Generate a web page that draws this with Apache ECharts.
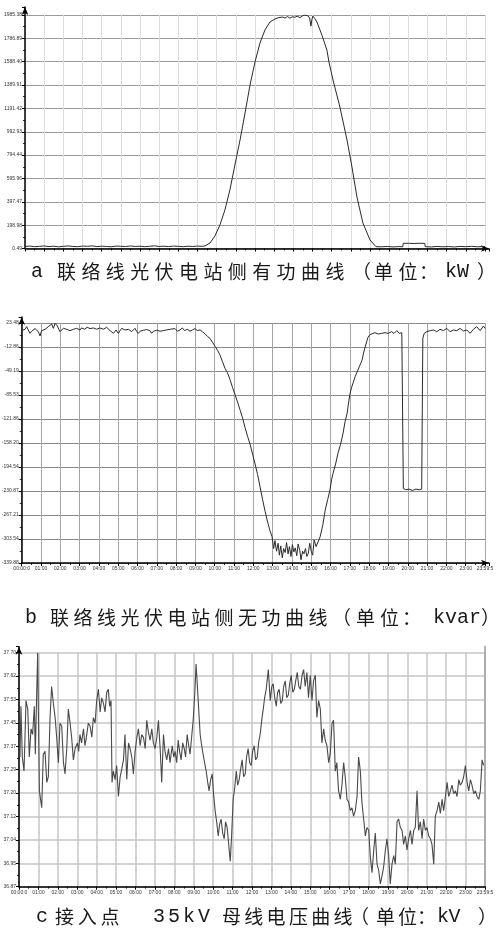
<!DOCTYPE html>
<html><head><meta charset="utf-8">
<script src="https://cdn.jsdelivr.net/npm/echarts@6/dist/echarts.min.js"></script>
<style>html,body{margin:0;padding:0;background:#fff}#c{width:498px;height:937px}</style>
</head><body><div id="c"></div>
<script>
// ---------------- DATA ----------------
const timeLabels = ['00:00:0','01:00','02:00','03:00','04:00','05:00','06:00','07:00','08:00','09:00','10:00','11:00','12:00','13:00','14:00','15:00','16:00','17:00','18:00','19:00','20:00','21:00','22:00','23:00','23:59:5'];

const aTickLabels = ['0.49','198.98','397.47','595.96','794.44','992.93','1191.42','1389.91','1588.40','1786.89','1985.38'];
const bTickLabels = ['-339.88','-303.54','-267.21','-230.87','-194.54','-158.20','-121.86','-85.53','-49.19','-12.86','23.48'];
const cTickLabels = ['36.87','36.95','37.04','37.12','37.20','37.29','37.37','37.45','37.53','37.62','37.70'];

// a: active power (kW)
const aHours = [0,0.25,0.5,0.75,1,1.25,1.5,1.75,2,2.25,2.5,2.75,3,3.25,3.5,3.75,4,4.25,4.5,4.75,5,5.25,5.5,5.75,6,6.25,6.5,6.75,7,7.25,7.5,7.75,8,8.25,8.5,8.75,9,9.2,9.39,
 9.65,9.91,10.17,10.43,10.69,10.95,11.22,11.48,11.74,12.0,12.26,12.52,12.78,13.04,13.2,13.3,13.45,13.56,13.7,13.82,13.95,14.08,14.2,14.35,14.5,14.61,14.7,14.76,14.85,14.92,14.97,15.02,15.12,15.23,15.49,15.75,15.86,16.07,16.43,16.8,17.06,17.32,17.63,18.0,18.31,
 18.6,18.9,19.2,19.5,19.71,19.73,20.0,20.3,20.6,20.86,20.88,21.2,21.5,21.8,22.1,22.4,22.7,23.0,23.3,23.6,24];
const aPower = [18,21,16,19,22,17,20,15,19,22,18,16,21,19,23,17,20,18,15,21,19,17,22,18,20,16,19,23,18,20,17,21,19,16,20,18,21,19,22,
 47,107,200,328,498,710,923,1152,1390,1586,1747,1858,1926,1951,1962,1955,1968,1960,1972,1958,1970,1966,1975,1963,1980,1985,1972,1978,1960,1891,1950,1976,1955,1926,1815,1688,1586,1433,1203,923,693,438,217,73,16,
 15,18,14,17,15,44,45,43,45,44,16,14,18,15,17,14,18,16,19,15,17];

// b: reactive power (kvar)
const bHours = [0,0.085,0.17,0.258,0.34,0.43,0.52,0.6,0.69,0.776,0.86,0.95,1.03,1.12,1.21,1.3,1.38,1.47,1.55,1.64,1.73,1.85,1.92,1.98,2.07,2.16,2.25,2.33,2.42,2.5,2.59,2.68,2.77,2.85,2.94,3.02,3.1,3.19,3.26,3.33,3.39,3.45,3.54,3.63,3.72,3.8,3.88,3.97,4.05,4.14,4.23,4.32,4.4,4.49,4.58,4.66,4.75,4.82,4.89,4.95,5.01,5.1,5.18,5.27,5.35,5.44,5.53,5.62,5.7,5.78,5.87,5.95,6.04,6.13,6.22,6.3,6.39,6.47,6.56,6.64,6.73,6.82,6.91,7.0,7.08,7.17,7.25,7.34,7.43,7.51,7.6,7.7,7.8,7.94,8.07,8.2,8.32,8.44,8.58,8.72,8.85,8.98,9.1,9.24,
 9.37,9.5,9.63,9.76,9.89,10.02,10.15,10.27,10.4,10.53,10.66,10.79,10.92,11.05,11.18,11.31,11.44,11.57,11.7,11.83,11.96,12.09,12.22,12.35,12.48,12.61,12.69,12.76,12.86,12.97,
 13.05,13.12,13.2,13.28,13.35,13.42,13.5,13.57,13.65,13.72,13.8,13.87,13.95,14.02,14.1,14.17,14.25,14.32,14.4,14.47,14.55,14.62,14.7,14.77,14.85,14.92,15.0,15.07,15.15,15.25,15.35,15.46,
 15.6,15.72,15.85,15.97,16.05,16.13,16.26,16.39,16.52,16.65,16.75,16.86,16.94,17.01,17.09,17.17,17.27,17.37,17.5,17.63,17.71,17.79,17.87,17.94,18.05,18.13,
 18.3,18.47,18.65,18.82,18.99,19.16,19.29,19.43,19.56,19.69,19.75,
 19.77,19.9,20.07,20.24,20.42,20.59,20.72,
 20.78,20.85,20.91,20.98,21.16,21.33,21.5,21.67,21.85,22.02,22.19,22.36,22.54,22.71,22.88,23.06,23.23,23.4,23.57,23.75,23.92,24];
const bPower = [12,10.4,14,17.9,13,7.8,11,11.9,15,15.4,10.4,3.8,11.9,14,13.9,16,17.9,19,22,15.4,23,18.9,14,10.4,13,15.4,14,13.9,12,11.9,14.5,13.9,12,15.4,14,12.9,16,17.9,14,15.4,17,18.9,15,13.9,16,17.9,14,12.9,16,18.9,14,12.9,16.9,14,11.9,9.5,7.8,10,12.9,10,7.8,12,15.4,14,12.9,13,13.9,12,10.4,13,15.4,11,7.8,11,13.9,12.5,11.9,13.5,15.4,12,7.8,11,13.9,12.5,11.9,11,10.4,12,13.9,13,11.9,14,12,15,11,13,16,12,14,11,13,15,12,13,
 10,7,3,0,-6,-12,-18,-25,-35,-45,-52,-62,-74,-85,-96,-108,-120,-135,-148,-160,-175,-190,-206,-225,-244,-262,-272,-280,-291,-300,
 -318,-306,-322,-310,-328,-314,-332,-318,-324,-309,-326,-315,-330,-312,-323,-317,-329,-311,-320,-335,-322,-326,-318,-330,-325,-310,-322,-328,-305,-315,-308,-300,
 -282,-260,-244,-229,-214,-204,-190,-173,-160,-143,-126,-113,-96,-83,-74,-67,-58,-51,-42,-33,-22,-13,-5,2,6,7.8,
 8.8,6.8,7.8,8.8,7.8,10.3,7.8,11.9,7.8,8.8,8.8,
 -227,-229,-228,-230,-228,-229,-228,
 0.3,7.8,8.8,10.3,11.9,12.9,10.3,13.9,11.9,15.4,10.3,12.9,11.9,15.4,11.4,12.9,7.8,13.9,17.9,11.9,18.9,15.4];

// c: 35kV bus voltage (kV)
const cHours = [0.05,0.10,0.17,0.26,0.36,0.45,0.53,0.62,0.70,0.79,0.84,0.96,1.05,1.17,1.25,1.34,1.43,1.51,1.60,1.68,1.77,1.86,1.94,2.03,2.11,2.20,2.29,2.37,2.46,2.54,2.63,2.71,2.80,2.89,3.01,3.07,3.14,3.22,3.32,3.40,3.49,3.57,3.66,3.75,3.83,3.92,4.00,4.09,4.18,4.26,4.35,4.43,4.52,4.60,4.67,4.74,4.79,4.86,4.95,5.03,5.12,5.21,5.30,5.38,5.46,5.55,5.64,5.72,5.81,5.89,5.98,6.07,6.15,6.24,6.32,6.41,6.50,6.58,6.66,6.75,6.84,6.92,7.01,7.10,7.18,7.27,7.35,7.44,7.52,7.61,7.70,7.78,
 7.89,7.97,8.04,8.12,8.20,8.27,8.35,8.43,8.51,8.58,8.66,8.74,8.81,8.89,8.97,9.05,9.12,9.23,9.33,9.41,9.48,9.56,9.64,9.72,9.79,9.87,9.95,10.02,10.10,10.18,10.26,10.33,10.41,10.49,10.57,10.64,10.72,10.80,10.88,10.95,11.03,11.11,11.19,11.26,11.34,11.42,11.49,11.57,11.65,11.72,11.80,11.88,11.96,12.03,12.11,12.19,12.27,12.34,12.42,12.50,12.58,12.65,12.73,12.84,12.94,13.02,13.09,13.17,13.25,13.32,13.40,13.48,13.56,13.63,13.71,13.79,13.87,13.94,14.02,14.10,14.18,14.25,14.33,14.41,
 14.49,14.58,14.66,14.74,14.83,14.91,15.00,15.09,15.17,15.26,15.34,15.43,15.52,15.60,15.69,15.77,15.86,15.95,16.03,16.12,16.20,16.29,16.37,16.46,16.55,16.63,16.72,16.80,16.89,16.98,17.06,17.15,17.23,17.32,17.41,17.49,17.58,17.66,17.75,17.84,17.92,18.01,18.09,18.18,18.27,18.35,18.44,18.52,18.61,18.70,18.78,18.87,18.95,19.04,19.12,19.21,19.30,19.38,19.47,19.55,19.64,19.73,19.81,19.90,19.98,20.07,20.16,20.24,20.33,20.41,20.50,20.58,20.67,20.76,20.84,20.93,21.01,21.10,21.19,21.27,21.36,21.44,21.53,21.62,21.70,21.79,21.87,21.96,22.05,22.13,22.22,22.30,22.39,22.48,22.56,22.65,22.73,22.82,22.90,22.99,23.08,23.16,23.25,23.33,23.42,23.51,23.59,23.68,23.76,23.85,23.93,23.99];
const cVoltage = [37.33,37.51,37.33,37.28,37.53,37.50,37.33,37.43,37.41,37.51,37.34,37.70,37.21,37.15,37.34,37.35,37.24,37.26,37.47,37.58,37.52,37.47,37.40,37.31,37.45,37.44,37.31,37.27,37.36,37.50,37.45,37.40,37.32,37.36,37.38,37.35,37.41,37.38,37.43,37.37,37.41,37.45,37.44,37.40,37.47,37.45,37.53,37.57,37.49,37.54,37.52,37.49,37.56,37.57,37.51,37.53,37.24,37.28,37.25,37.30,37.19,37.26,37.29,37.32,37.41,37.25,37.38,37.36,37.33,37.27,37.35,37.40,37.43,37.37,37.41,37.40,37.36,37.46,37.42,37.39,37.43,37.38,37.36,37.40,37.46,37.36,37.24,37.41,37.35,37.32,37.36,37.31,
 37.37,37.33,37.35,37.31,37.39,37.35,37.32,37.38,37.36,37.33,37.41,37.37,37.34,37.40,37.46,37.55,37.66,37.53,37.41,37.37,37.34,37.31,37.28,37.24,37.21,37.25,37.27,37.20,37.14,37.10,37.05,37.09,37.11,37.06,37.04,37.10,37.08,37.02,36.96,37.05,37.18,37.22,37.28,37.23,37.25,37.29,37.32,37.26,37.27,37.33,37.36,37.31,37.30,37.35,37.37,37.32,37.33,37.38,37.41,37.46,37.50,37.54,37.57,37.64,37.53,37.58,37.59,37.54,37.51,37.56,37.57,37.52,37.53,37.58,37.60,37.54,37.55,37.59,37.62,37.56,37.57,37.60,37.63,37.58,
 37.57,37.62,37.64,37.58,37.63,37.54,37.62,37.53,37.60,37.62,37.47,37.53,37.50,37.38,37.43,37.39,37.37,37.31,37.34,37.45,37.46,37.28,37.31,37.21,37.18,37.23,37.31,37.26,37.18,37.17,37.14,37.15,37.12,37.14,37.19,37.33,37.28,37.17,37.11,37.05,37.08,37.07,36.98,36.92,37.00,37.06,36.95,36.93,36.88,36.91,36.94,37.00,37.04,36.98,36.88,36.95,36.98,36.95,37.10,37.11,37.08,37.07,37.02,37.05,37.00,37.04,37.07,37.02,37.07,37.08,37.21,37.07,37.10,37.04,37.11,37.07,37.08,37.05,37.04,37.02,36.95,37.12,37.14,37.17,37.13,37.18,37.14,37.19,37.24,37.19,37.21,37.23,37.20,37.21,37.19,37.25,37.23,37.24,37.26,37.30,37.24,37.21,37.25,37.23,37.20,37.21,37.19,37.18,37.21,37.32,37.30];

const captionA = 'a 联络线光伏电站侧有功曲线（单位：kW）';
const captionB = 'b 联络线光伏电站侧无功曲线（单位：kvar）';
const captionC = 'c 接入点 35kV 母线电压曲线（单位：kV）';

// ---------------- LAYOUT / STYLE ----------------
const panels = [
  {labels: aTickLabels, hours: aHours, vals: aPower,
   left:25, top:15, width:460, height:233.5, extTop:8, extRight:4, xArrow:true, yArrow:true, xLabels:false,
   hColor:'#9a9a9a', vColor:'#dcdcdc', gw:1, lineColor:'#2a2a2a', lw:1},
  {labels: bTickLabels, hours: bHours, vals: bPower,
   left:21.7, top:323, width:463.3, height:240, extTop:6, extRight:4, xArrow:true, yArrow:true, xLabels:true,
   hColor:'#8a8a8a', vColor:'#a5a5a5', gw:1, lineColor:'#2a2a2a', lw:1},
  {labels: cTickLabels, hours: cHours, vals: cVoltage,
   left:19, top:652.7, width:466, height:234, extTop:6, extRight:0, xArrow:false, yArrow:true, xLabels:true,
   hColor:'#c6c6c6', vColor:'#c6c6c6', gw:1.5, lineColor:'#4a4a4a', lw:1.1, rightLine:true}
];

// caption runs: [text, x, pitch]; y is the vertical centre
const captionRuns = [
  {y:272, src:captionA, runs:[['a',31],['联络线光伏电站侧有功曲线',57,24.4],['（',352],['单位',374,24.4],['：',419],['kW',445,12],['）',477]]},
  {y:618, src:captionB, runs:[['b',25],['联络线光伏电站侧无功曲线',50,23.5],['（',332],['单位',356,24],['：',402],['kvar',433,12],['）',481]]},
  {y:917, src:captionC, runs:[['c',36],['接入点',55,22.7],['35kV',153,15],['母线电压曲线',222,22.3],['（',350],['单位',376,22],['：',417],['kV',437,11.5],['）',478]]}
];

function toUnits(v, labels){
  const lo = parseFloat(labels[0]), hi = parseFloat(labels[labels.length-1]);
  return (v - lo) / ((hi - lo) / (labels.length - 1));
}
function timeFmt(v){
  const r = Math.round(v);
  return (Math.abs(v - r) < 1e-6 && r >= 0 && r < timeLabels.length) ? timeLabels[r] : '';
}

const grid = [], xAxis = [], yAxis = [], series = [];
const lab = {fontSize:5, color:'#333', fontFamily:'Liberation Sans', margin:3};
panels.forEach((p, i) => {
  const nY = p.labels.length - 1;
  grid.push({left:p.left, top:p.top, width:p.width, height:p.height, outerBoundsMode:'none', containLabel:false});
  const wB = p.width + p.extRight, hB = p.height + p.extTop;
  grid.push({left:p.left, top:p.top - p.extTop, width:wB, height:hB, outerBoundsMode:'none', containLabel:false});
  const gA = 2*i, gB = 2*i+1;
  const xMaxB = 24 * wB / p.width, yMaxB = nY * hB / p.height;

  xAxis.push({type:'value', gridIndex:gA, min:0, max:24, interval:1,
    axisLine:{show:false}, axisTick:{show:false}, axisLabel:{show:false},
    splitLine:{show:true, lineStyle:{color:p.vColor, width:p.gw}}});
  yAxis.push({type:'value', gridIndex:gA, min:0, max:nY, interval:1,
    axisLine:{show:false}, axisTick:{show:false}, axisLabel:{show:false},
    splitLine:{show:true, lineStyle:{color:p.hColor, width:p.gw}}});

  xAxis.push({type:'value', gridIndex:gB, min:0, max:xMaxB, interval:1,
    axisLine:{show:true, onZero:false, lineStyle:{color:'#000', width:1.5},
      symbol: p.xArrow ? ['none','arrow'] : 'none', symbolSize:[5,8]},
    axisTick:{show:true, length:3, lineStyle:{color:'#000', width:1}},
    minorTick:{show:true, splitNumber:2, length:2, lineStyle:{color:'#000', width:0.8}},
    axisLabel: Object.assign({show:p.xLabels, formatter:timeFmt, showMaxLabel:true, showMinLabel:true, hideOverlap:false}, lab),
    splitLine:{show:false}});
  yAxis.push({type:'value', gridIndex:gB, min:0, max:yMaxB, interval:1,
    axisLine:{show:true, onZero:false, lineStyle:{color:'#000', width:1.5},
      symbol: p.yArrow ? ['none','arrow'] : 'none', symbolSize:[5,8]},
    axisTick:{show:true, length:3, lineStyle:{color:'#000', width:1}},
    minorTick:{show:true, splitNumber:2, length:2, lineStyle:{color:'#000', width:0.8}},
    axisLabel: Object.assign({formatter:(v)=>{const r=Math.round(v);return (Math.abs(v-r)<1e-6 && r<=nY)?p.labels[r]:'';}}, lab),
    splitLine:{show:false}});
  if (p.rightLine) {
    yAxis.push({type:'value', gridIndex:gB, position:'right', min:0, max:yMaxB,
      axisLine:{show:true, onZero:false, lineStyle:{color:'#a8a8a8', width:1.8}},
      axisTick:{show:false}, axisLabel:{show:false}, splitLine:{show:false}});
  }
  series.push({type:'line', xAxisIndex: xAxis.length - 2, yAxisIndex: yAxis.length - (p.rightLine ? 3 : 2),
    data: p.hours.map((h, k) => [h, toUnits(p.vals[k], p.labels)]),
    symbol:'none', showSymbol:false, clip:true, animation:false,
    lineStyle:{color:p.lineColor, width:p.lw}, z:5});
});

// captions as graphic text, y = vertical centre
const graphic = [];
captionRuns.forEach(c => {
  c.runs.forEach(([t, x, pitch]) => {
    const chars = pitch ? Array.from(t) : [t];
    chars.forEach((ch, k) => {
      const cjk = ch.charCodeAt(0) > 255;
      graphic.push({type:'text', x: x + (pitch ? k*pitch : 0), y: c.y, silent:true,
        style:{text: ch, x:0, y:0, fill:'#1a1a1a', fontSize: cjk ? 19 : 20,
          fontFamily: cjk ? "'Noto Sans CJK SC', sans-serif" : "'Liberation Mono', monospace",
          verticalAlign:'middle', align:'left'}});
    });
  });
});

const chart = echarts.init(document.getElementById('c'), null, {renderer:'canvas'});
chart.setOption({animation:false, backgroundColor:'#fff', grid, xAxis, yAxis, series, graphic});
</script></body></html>
